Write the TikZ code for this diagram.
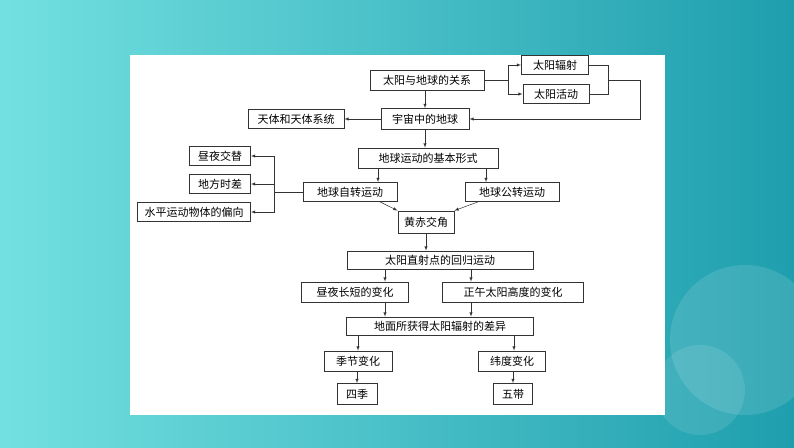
\documentclass[tikz,border=0pt]{standalone}
\usepackage{fontspec}
\setmainfont{Noto Sans CJK SC}
\begin{document}
\begin{tikzpicture}[x=1pt,y=-1pt,
  bx/.style={draw=black!80,line width=0.8pt,fill=white,inner sep=0pt,font=\fontsize{11}{13}\selectfont},
  ar/.style={-latex,line width=0.5pt,black!80},
  ln/.style={line width=0.5pt,black!80}]
\useasboundingbox (0,0) rectangle (794,447);
\shade[left color={rgb,1:red,0.45;green,0.88;blue,0.88},right color={rgb,1:red,0.12;green,0.62;blue,0.68}] (0,0) rectangle (794,447);
\fill[white,opacity=0.12] (745,340) circle (75);
\fill[white,opacity=0.1] (700,390) circle (45);
\fill[white] (130,55) rectangle (665,415);
\def\B#1#2#3#4#5{\node[bx,minimum width=#4pt,minimum height=#5pt] (#1) at #2 {#3};}
\B{ry}{(427,80)}{太阳与地球的关系}{114}{20}
\B{fs}{(555,65)}{太阳辐射}{67}{19}
\B{hd}{(556,94)}{太阳活动}{66}{19}
\B{tt}{(296,119)}{天体和天体系统}{96}{19}
\B{yz}{(425,119)}{宇宙中的地球}{88}{21}
\B{jb}{(428,158)}{地球运动的基本形式}{140}{20}
\B{zy}{(220,156)}{昼夜交替}{61}{19}
\B{df}{(220,184)}{地方时差}{61}{19}
\B{sp}{(194,212)}{水平运动物体的偏向}{113}{19}
\B{zz}{(350,192)}{地球自转运动}{94}{19}
\B{gz}{(512,192)}{地球公转运动}{94}{19}
\B{hc}{(426,222)}{黄赤交角}{56}{22}
\B{zs}{(440,260)}{太阳直射点的回归运动}{186}{18}
\B{cd}{(355,292)}{昼夜长短的变化}{107}{20}
\B{zw}{(513,292)}{正午太阳高度的变化}{141}{20}
\B{dm}{(440,326)}{地面所获得太阳辐射的差异}{187}{18}
\B{jj}{(358,361)}{季节变化}{68}{20}
\B{wd}{(512,361)}{纬度变化}{67}{20}
\B{sj}{(357,394)}{四季}{40}{21}
\B{wu}{(513,394)}{五带}{39}{21}
% top branch
\coordinate (b1) at (508,80);
\draw[ln] (ry.east) -- (b1);
\draw[ar] (b1) |- (fs.west);
\draw[ar] (b1) |- (hd.west);
\coordinate (j1) at (608,80);
\draw[ln] (fs.east) -| (j1);
\draw[ln] (hd.east) -| (j1);
\coordinate (j2) at (640,80);
\coordinate (j3) at (640,119);
\draw[ar] (j1) -- (j2) -- (j3) -- (yz.east);
\draw[ar] (ry.south -| yz.north) -- (yz.north);
\draw[ar] (yz.west) -- (tt.east);
\draw[ar] (yz.south) -- (jb.north -| yz.south);
\draw[ar] (jb.south -| 378,0) -- (zz.north -| 378,0);
\draw[ar] (jb.south -| 486,0) -- (gz.north -| 486,0);
% left branch
\coordinate (b2) at (274,192);
\draw[ln] (zz.west) -- (b2);
\draw[ar] (b2) |- (zy.east);
\draw[ar] (b2) -- (df.east -| b2) -- (df.east);
\draw[ar] (b2) |- (sp.east);
\draw[ar] (zz.south -| 380,0) -- (hc.north west);
\draw[ar] (gz.south -| 478,0) -- (hc.north east);
\draw[ar] (hc.south) -- (zs.north -| hc.south);
\draw[ar] (zs.south -| 385,0) -- (cd.north -| 385,0);
\draw[ar] (zs.south -| 471,0) -- (zw.north -| 471,0);
\draw[ar] (cd.south -| 385,0) -- (dm.north -| 385,0);
\draw[ar] (zw.south -| 471,0) -- (dm.north -| 471,0);
\draw[ar] (dm.south -| 358,0) -- (jj.north -| 358,0);
\draw[ar] (dm.south -| 514,0) -- (wd.north -| 514,0);
\draw[ar] (jj.south -| 357,0) -- (sj.north -| 357,0);
\draw[ar] (wd.south -| 513,0) -- (wu.north -| 513,0);
\end{tikzpicture}
\end{document}
